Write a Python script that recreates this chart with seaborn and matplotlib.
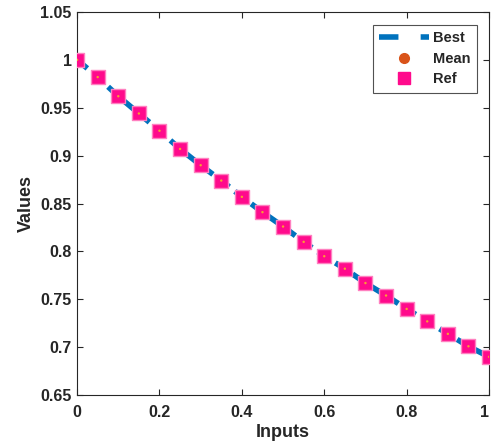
import numpy as np
import pandas as pd
import matplotlib
matplotlib.use("Agg")
import matplotlib.pyplot as plt
import seaborn as sns
from matplotlib.lines import Line2D

inputs = [0.0, 0.05, 0.1, 0.15, 0.2, 0.25, 0.3, 0.35, 0.4, 0.45, 0.5,
          0.55, 0.6, 0.65, 0.7, 0.75, 0.8, 0.85, 0.9, 0.95, 1.0]
best = [1.000, 0.982, 0.962, 0.944, 0.926, 0.907, 0.890, 0.874, 0.857, 0.841, 0.826,
        0.810, 0.795, 0.782, 0.767, 0.754, 0.740, 0.727, 0.714, 0.701, 0.690]
mean = list(best)
ref = list(best)
xticks = [0, 0.2, 0.4, 0.6, 0.8, 1]
xticklabels = ["0", "0.2", "0.4", "0.6", "0.8", "1"]
yticks = [0.65, 0.7, 0.75, 0.8, 0.85, 0.9, 0.95, 1.0, 1.05]
yticklabels = ["0.65", "0.7", "0.75", "0.8", "0.85", "0.9", "0.95", "1", "1.05"]

df = pd.DataFrame({"Inputs": inputs, "Best": best, "Mean": mean, "Ref": ref})

sns.set_theme(style="white")
plt.rcParams["font.family"] = ["Liberation Sans", "DejaVu Sans"]
plt.rcParams["font.weight"] = "bold"

fig = plt.figure(figsize=(4.91, 4.42), dpi=100)
ax = fig.add_axes([0.157, 0.106, 0.839, 0.867])

blue = "#0072BD"
orange = "#D95319"
pink = "#FF0A8C"

sns.lineplot(data=df, x="Inputs", y="Best", ax=ax, color=blue, linewidth=4,
             linestyle=(0, (2.4, 1.3)), zorder=2)
sns.scatterplot(data=df, x="Inputs", y="Mean", ax=ax, color=orange, s=40,
                marker="o", edgecolor=orange, zorder=3)
sns.scatterplot(data=df, x="Inputs", y="Ref", ax=ax, color=pink, s=110,
                marker="s", edgecolor="#ff80c0", linewidth=1.0, zorder=4)
sns.scatterplot(data=df, x="Inputs", y="Mean", ax=ax, color="#f7a030", s=3,
                marker="o", edgecolor="none", zorder=5)

ax.set_xlim(0, 1)
ax.set_ylim(0.65, 1.05)
ax.set_xticks(xticks)
ax.set_xticklabels(xticklabels, fontsize=11.5, fontweight="bold")
ax.get_xticklabels()[-1].set_horizontalalignment("right")
ax.set_yticks(yticks)
ax.set_yticklabels(yticklabels, fontsize=11.5, fontweight="bold")
ax.set_xlabel("Inputs", fontsize=13, fontweight="bold", labelpad=3)
ax.set_ylabel("Values", fontsize=13, fontweight="bold", labelpad=4)

for s in ax.spines.values():
    s.set_visible(True)
    s.set_color("#262626")
    s.set_linewidth(0.8)
ax.tick_params(direction="in", length=4, width=0.8, top=True, right=True,
               bottom=True, left=True, colors="#262626", labelcolor="#262626", pad=4)
ax.tick_params(axis="x", pad=7)

handles = [
    Line2D([], [], color=blue, linewidth=4, linestyle=(0, (3.5, 4.0))),
    Line2D([], [], color=orange, marker="o", linestyle="none", markersize=7),
    Line2D([], [], color=pink, marker="s", linestyle="none", markersize=9,
           markeredgecolor=pink, markerfacecolor=pink),
]
leg = ax.legend(handles, ["Best", "Mean", "Ref"], loc="upper right",
                bbox_to_anchor=(0.971, 0.967), borderaxespad=0, frameon=True,
                fancybox=False, edgecolor="#262626", handlelength=3.4,
                borderpad=0.45, labelspacing=0.45, handletextpad=0.3,
                prop={"weight": "bold", "size": 10.5})
leg.get_frame().set_linewidth(0.8)

fig.savefig("out.png", dpi=100)
